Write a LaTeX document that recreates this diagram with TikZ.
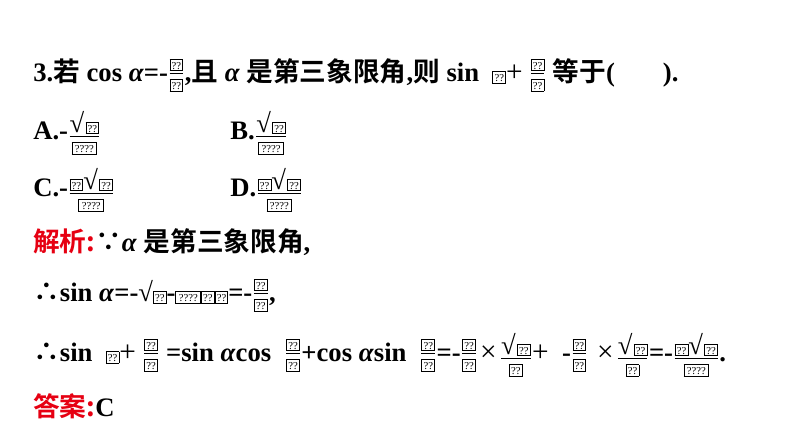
\documentclass[tikz,border=0pt]{standalone}
\usepackage{amsmath}
\usepackage{fontspec}
\setmainfont{Liberation Serif}
\newfontfamily\cjk{Noto Sans CJK SC}[BoldFont={Noto Sans CJK SC Bold}]
\definecolor{ansred}{RGB}{230,0,18}
\setlength\fboxsep{0.5pt}\setlength\fboxrule{0.6pt}
\newcommand\qb{\fbox{\makebox[8pt][c]{\rule{0pt}{7pt}\fontsize{8}{8}\selectfont\mdseries ??}}}
\newcommand\qbbbb{\fbox{\makebox[17pt][c]{\rule{0pt}{7pt}\fontsize{8}{8}\selectfont\mdseries ????}}}
\newcommand\fr[2]{$\vcenter{\hbox{$\genfrac{}{}{0.6pt}{}{\hbox{#1}}{\hbox{#2}}$}}$}
\newcommand\sq[1]{√\hspace{1pt}#1}
\newcommand\ti{\hspace{2pt}{\mdseries\fontsize{22}{22}\selectfont ×}\hspace{2pt}}
\newcommand\pl{{\mdseries\fontsize{22}{22}\selectfont +}}
\tikzset{x=0.75pt,y=-0.75pt,
  txt/.style={anchor=west,inner sep=0pt,font=\fontsize{20}{22}\bfseries}}
\begin{document}
\begin{tikzpicture}
\useasboundingbox (0,0) rectangle (794,446);
\node[txt] (l1) at (33,75) {3.{\cjk 若} cos \textit{α}=-\fr{\qb}{\qb},{\cjk 且} \textit{α} {\cjk 是第三象限角},{\cjk 则} sin \ \qb\pl\ \fr{\qb}{\qb} {\cjk 等于}(\hspace{1.8em}).};
\node[txt] (a) at (33,133) {A.-\fr{\sq{\qb}}{\qbbbb}};
\node[txt] (b) at (230,133) {B.\fr{\sq{\qb}}{\qbbbb}};
\node[txt] (c) at (33,190) {C.-\fr{\qb\sq{\qb}}{\qbbbb}};
\node[txt] (d) at (230,190) {D.\fr{\qb\sq{\qb}}{\qbbbb}};
\node[txt] (j) at (33,242) {\textcolor{ansred}{\cjk 解析:}{\cjk ∵}\textit{α} {\cjk 是第三象限角},};
\node[txt] (s1) at (33,295) {{\cjk ∴}sin \textit{α}=-√\qb-\qbbbb\qb\qb=-\fr{\qb}{\qb},};
\node[txt] (s2) at (33,355) {{\cjk ∴}sin \ \qb\pl\ \fr{\qb}{\qb}\ =sin \textit{α}cos \ \fr{\qb}{\qb}+cos \textit{α}sin \ \fr{\qb}{\qb}=-\fr{\qb}{\qb}\ti\fr{\sq{\qb}}{\qb}\pl\ \ -\fr{\qb}{\qb}\ \ti\fr{\sq{\qb}}{\qb}=-\fr{\qb\sq{\qb}}{\qbbbb}.};
\node[txt] (ans) at (33,406) {\textcolor{ansred}{\cjk 答案:}C};
\end{tikzpicture}
\end{document}
